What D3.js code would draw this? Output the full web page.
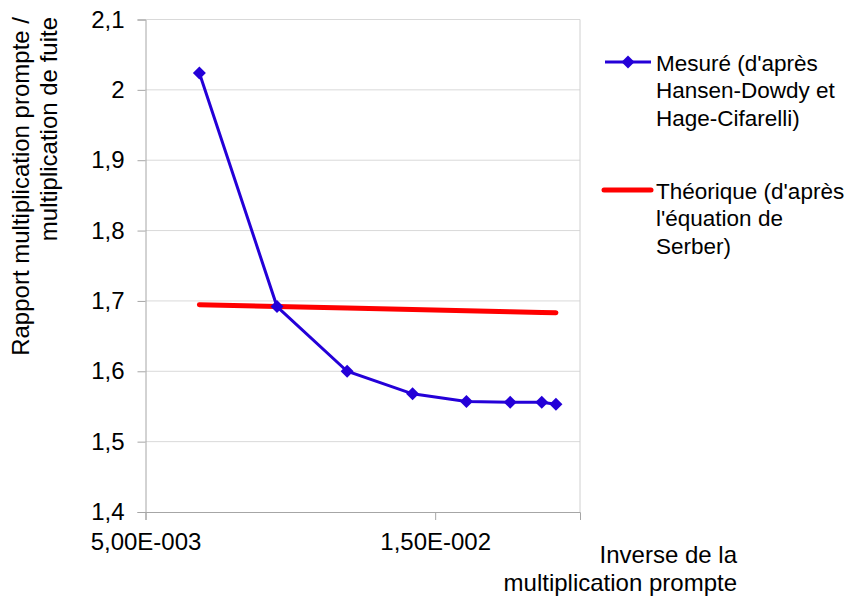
<!DOCTYPE html>
<html><head><meta charset="utf-8">
<script src="https://cdn.jsdelivr.net/npm/d3@7/dist/d3.min.js"></script>
<style>body{margin:0;background:#fff;font-family:"Liberation Sans",Arial,sans-serif;}</style>
</head><body><svg id="c" width="857" height="597"></svg>
<script>
const xValues = [0.00686, 0.00954, 0.01196, 0.01422, 0.01608, 0.01759, 0.01868, 0.01917];
const measured = [2.024, 1.692, 1.600, 1.568, 1.557, 1.556, 1.556, 1.553];
const theoretical = [1.6946, 1.6921, 1.6899, 1.6878, 1.6861, 1.6847, 1.6837, 1.6833];
const yTicks = [1.4, 1.5, 1.6, 1.7, 1.8, 1.9, 2.0, 2.1];
const xTicks = [0.005, 0.015];
const seriesNames = [["Mesuré (d'après", "Hansen-Dowdy et", "Hage-Cifarelli)"], ["Théorique (d'après", "l'équation de", "Serber)"]];
const yTitle = ["Rapport multiplication prompte /", "multiplication de fuite"];
const xTitle = ["Inverse de la", "multiplication prompte"];

const FONT = "Liberation Sans, Arial, sans-serif";
const svg = d3.select("#c");
const L = 145.5, R = 580, T = 19.5, B = 512;
const x = d3.scaleLinear().domain([0.005, 0.020]).range([L, R]);
const y = d3.scaleLinear().domain([1.4, 2.1]).range([B, T]);
const fmtY = v => (v === 2 ? "2" : d3.format(".1f")(v).replace(".", ","));
const fmtX = v => { const s = v.toExponential(2).replace(".", ","); const [m, e] = s.split("e"); const n = parseInt(e); return m + "E" + (n < 0 ? "-" : "+") + String(Math.abs(n)).padStart(3, "0"); };

// gridlines
svg.append("g").selectAll("line").data(yTicks.filter(v => v > 1.4)).join("line")
  .attr("x1", L).attr("x2", R).attr("y1", d => y(d)).attr("y2", d => y(d))
  .attr("stroke", "#d9d9d9").attr("stroke-width", 1);
svg.append("line").attr("x1", R).attr("x2", R).attr("y1", T).attr("y2", B).attr("stroke", "#d0d0d0");

// y axis
const ya = svg.append("g").attr("transform", `translate(${L},0)`)
  .call(d3.axisLeft(y).tickValues(yTicks).tickFormat(fmtY).tickSize(8).tickPadding(13));
ya.select(".domain").attr("stroke", "#a6a6a6");
ya.selectAll(".tick line").attr("stroke", "#a6a6a6");
ya.selectAll("text").attr("font-size", 24).attr("fill", "#000").attr("font-family", FONT);

// x axis
const xa = svg.append("g").attr("transform", `translate(0,${B})`)
  .call(d3.axisBottom(x).tickValues(xTicks).tickFormat(fmtX).tickSize(8).tickPadding(13));
xa.select(".domain").attr("stroke", "#a6a6a6");
xa.selectAll(".tick line").attr("stroke", "#a6a6a6");
xa.selectAll("text").attr("font-size", 24).attr("fill", "#000").attr("font-family", FONT);

const blue = "#2400d8", red = "#ff0000";
const pts = xValues.map((v, i) => [v, measured[i]]);
const tpts = xValues.map((v, i) => [v, theoretical[i]]);
const line = d3.line().x(d => x(d[0])).y(d => y(d[1]));

svg.append("path").attr("d", line(tpts)).attr("fill", "none").attr("stroke", red).attr("stroke-width", 5).attr("stroke-linecap", "round");
svg.append("path").attr("d", line(pts)).attr("fill", "none").attr("stroke", blue).attr("stroke-width", 3);
function dia(cx, cy) {
  const r = 6.5;
  return `M${cx},${cy - r}L${cx + r},${cy}L${cx},${cy + r}L${cx - r},${cy}Z`;
}
svg.append("g").selectAll("path").data(pts).join("path")
  .attr("d", d => dia(x(d[0]), y(d[1]))).attr("fill", blue);

// legend
const lg = svg.append("g").attr("font-size", 22.5).attr("font-family", FONT);
const ly = [62, 190];
lg.append("line").attr("x1", 605).attr("x2", 651).attr("y1", ly[0]).attr("y2", ly[0]).attr("stroke", blue).attr("stroke-width", 3);
lg.append("path").attr("d", dia(628, ly[0])).attr("fill", blue);
lg.append("line").attr("x1", 604).attr("x2", 651).attr("y1", ly[1]).attr("y2", ly[1]).attr("stroke", red).attr("stroke-width", 5).attr("stroke-linecap", "round");
seriesNames.forEach((lines, k) => {
  lines.forEach((t, j) => {
    lg.append("text").attr("x", 656).attr("y", ly[k] + 8.5 + j * 27.5).text(t);
  });
});

// y title
const yt = svg.append("g").attr("font-size", 24).attr("font-family", FONT);
yTitle.forEach((t, j) => {
  yt.append("text").attr("transform", `translate(${29 + j * 28},17) rotate(-90)`).attr("text-anchor", "end").text(t);
});
// x title
xTitle.forEach((t, j) => {
  svg.append("text").attr("x", 737).attr("y", 563 + j * 27.5).attr("text-anchor", "end")
    .attr("font-size", 24).attr("font-family", FONT).text(t);
});
</script></body></html>
